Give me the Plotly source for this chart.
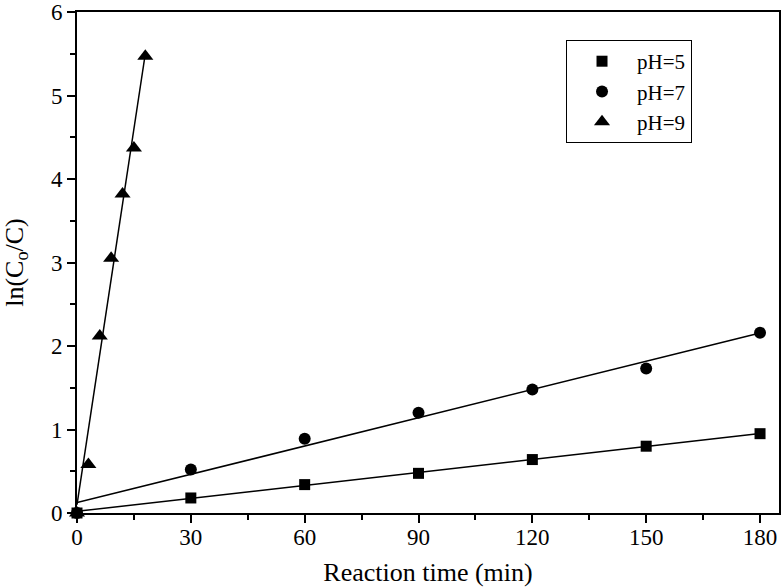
import plotly.graph_objects as go
import numpy as np

# Data
time_ph5 = [0, 30, 60, 90, 120, 150, 180]
lnc_ph5 = [0, 0.18, 0.34, 0.475, 0.64, 0.80, 0.95]
time_ph7 = [0, 30, 60, 90, 120, 150, 180]
lnc_ph7 = [0, 0.52, 0.89, 1.20, 1.48, 1.73, 2.16]
time_ph9 = [0, 3, 6, 9, 12, 15, 18]
lnc_ph9 = [0, 0.58, 2.12, 3.05, 3.82, 4.37, 5.47]

# Linear fit parameters (intercept, slope)
fit_ph5 = [0.02, 0.00517]
fit_ph7 = [0.125, 0.01128]
fit_ph9 = [0.10, 0.300]

x_ticks = [0, 30, 60, 90, 120, 150, 180]
y_ticks = [0, 1, 2, 3, 4, 5, 6]

series = [
    ("pH=5", time_ph5, lnc_ph5, fit_ph5, "square", 11),
    ("pH=7", time_ph7, lnc_ph7, fit_ph7, "circle", 12),
    ("pH=9", time_ph9, lnc_ph9, fit_ph9, "triangle-up", 14),
]

fig = go.Figure()
for name, xs, ys, fit, sym, sz in series:
    xf = np.array([min(xs), max(xs)], dtype=float)
    yf = fit[0] + fit[1] * xf
    fig.add_trace(go.Scatter(x=xf, y=yf, mode="lines",
                             line=dict(color="black", width=1.5),
                             showlegend=False, hoverinfo="skip"))
for name, xs, ys, fit, sym, sz in series:
    fig.add_trace(go.Scatter(x=xs, y=ys, mode="markers", name=name,
                             marker=dict(symbol=sym, size=sz, color="black"),
                             cliponaxis=False))

font_family = "Liberation Serif, Times New Roman, serif"
fig.update_layout(
    width=784, height=588,
    margin=dict(l=77, r=5, t=12, b=75, autoexpand=False),
    paper_bgcolor="white", plot_bgcolor="white",
    font=dict(family=font_family, size=23, color="black"),
    legend=dict(x=0.6966, y=0.944, xanchor="left", yanchor="top",
                bordercolor="black", borderwidth=1, bgcolor="white",
                font=dict(size=21), itemwidth=60, tracegroupgap=0),
)
fig.update_xaxes(
    range=[0, 185], tickvals=x_ticks, automargin=False,
    showgrid=False, zeroline=False, showline=True, linewidth=2, linecolor="black",
    mirror=True, ticks="outside", ticklen=8, tickwidth=2, tickcolor="black",
    ticklabelstandoff=-6,
    minor=dict(tickvals=[15, 45, 75, 105, 135, 165], ticks="outside", ticklen=5,
               tickwidth=2, tickcolor="black"),
    title=dict(text="Reaction time (min)", font=dict(size=26), standoff=14),
    tickfont=dict(size=23),
)
fig.update_yaxes(
    range=[0, 6], tickvals=y_ticks, automargin=False,
    showgrid=False, zeroline=False, showline=True, linewidth=2, linecolor="black",
    mirror=True, ticks="outside", ticklen=8, tickwidth=2, tickcolor="black",
    minor=dict(tickvals=[0.5, 1.5, 2.5, 3.5, 4.5, 5.5], ticks="outside", ticklen=5,
               tickwidth=2, tickcolor="black"),
    title=dict(text="ln(C<sub>o</sub>/C)", font=dict(size=26), standoff=20),
    tickfont=dict(size=23),
)

# remove the default 8px page margin so the 784x588 figure fills the window
fig.write_html("out.html", config={"displayModeBar": False},
               post_script="document.body.style.margin='0';")
